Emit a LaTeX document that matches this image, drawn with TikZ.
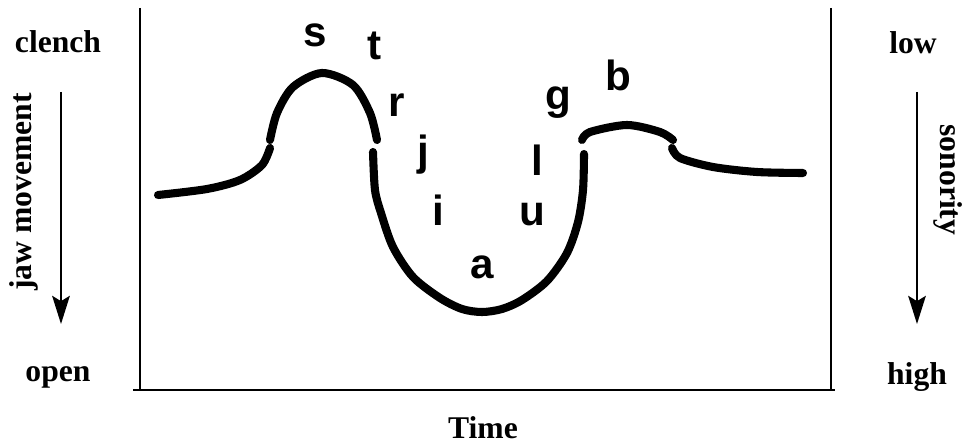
\documentclass[tikz,border=0pt]{standalone}
\usepackage{fontspec}
\setmainfont{Liberation Serif}
\newfontfamily\letterfont{Liberation Sans}
\usetikzlibrary{arrows.meta}
\begin{document}
\begin{tikzpicture} [x = 0.02cm, y = -0.02cm,
	axislabel/.style = {font = \bfseries\fontsize{18}{20}\selectfont},
	phone/.style = {font = \letterfont\bfseries\fontsize{24}{26}\selectfont},
	jaw/.style = {line width = 4.6pt, line cap = round},
	downarrow/.style = {line width = 1.3pt, -{Stealth[length=16pt, width=10pt, inset=3pt]}}]
	\useasboundingbox (0,0) rectangle (963,445);
	% frame
	\draw [line width = 1.2pt] (140,8) -- (140,390);
	\draw [line width = 1.2pt] (831,8) -- (831,390);
	\draw [line width = 1.2pt] (133,390) -- (835,390);
	% left scale
	\node [axislabel] (clench) at (58,42) {clench};
	\node [axislabel] (open) at (58,377) {open};
	\coordinate (jawtop) at (61,92);
	\coordinate (jawbot) at (61,324);
	\draw [downarrow] (jawtop) -- (jawbot);
	\node [axislabel, rotate = 90] (jawmove) at (24,192) {jaw movement};
	% right scale
	\node [axislabel] (low) at (913,43) {low};
	\node [axislabel] (high) at (917,377) {high};
	\coordinate (sontop) at (917,92);
	\coordinate (sonbot) at (917,324);
	\draw [downarrow] (sontop) -- (sonbot);
	\node [axislabel, rotate = -90] (sonority) at (948,180) {sonority};
	\node [axislabel, inner sep = 1pt] (time) at (483,428) {Time};
	% jaw curve
	\draw [jaw] plot [smooth] coordinates {(158,195) (207,189) (240,180) (262,165) (270,148)};
	\draw [jaw] plot [smooth] coordinates {(270,140) (277,113) (293,87) (322,73) (353,85) (370,113) (377,140)};
	\draw [jaw] plot [smooth] coordinates {(373,152) (375,190) (381,213) (393,247) (413,277) (440,298) (462,309) (482,312) (502,309) (522,300) (547,281) (567,253) (578,222) (583,190) (584,154)};
	\draw [jaw] plot [smooth] coordinates {(582,140) (590,132) (627,125) (660,132) (673,140)};
	\draw [jaw] plot [smooth] coordinates {(672,148) (680,158) (713,167) (757,172) (803,173)};
	% segments
	\node [phone] (s) at (315,35) {s};
	\node [phone] (t) at (375,46) {t};
	\node [phone] (r) at (397,105) {r};
	\node [phone] (j) at (423,155) {j};
	\node [phone] (i) at (438,210) {i};
	\node [phone] (a) at (482,267) {a};
	\node [phone] (u) at (532,215) {u};
	\node [phone] (l) at (537,160) {l};
	\node [phone] (g) at (558,103) {g};
	\node [phone] (b) at (618,75) {b};
\end{tikzpicture}
\end{document}
